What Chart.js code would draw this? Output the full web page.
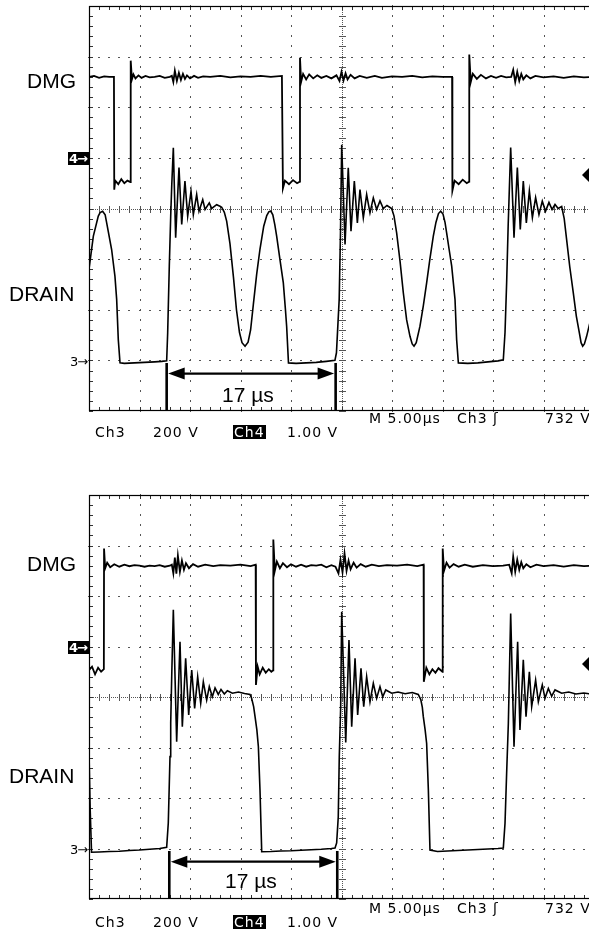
<!DOCTYPE html>
<html><head><meta charset="utf-8">
<script src="https://cdn.jsdelivr.net/npm/chart.js@4.4.0/dist/chart.umd.min.js"></script>
<style>
html,body{margin:0;padding:0;background:#fff;width:589px;height:930px;overflow:hidden;position:relative}
canvas{position:absolute;left:0}
.t{position:absolute;white-space:nowrap;line-height:1;color:#000}
.lbl{font-family:"Liberation Sans",Arial,sans-serif;font-size:21px}
.st{font-family:"DejaVu Sans",sans-serif;font-size:14px;letter-spacing:1px}
.inv{background:#000;color:#fff;padding:0 1px}
.mk{font-family:"DejaVu Sans",sans-serif;font-size:13px;letter-spacing:-1px}
.mkb{font-weight:bold;background:#000;color:#fff;height:13px;width:20px;line-height:13px;padding-left:1px}
.tri{position:absolute;width:0;height:0;border-top:7px solid transparent;border-bottom:7px solid transparent;border-right:7px solid #000}
</style>
</head><body>
<canvas id="c1" width="600" height="420" style="top:0"></canvas>
<canvas id="c2" width="600" height="420" style="top:489px"></canvas>

<div class="t lbl" style="left:27px;top:70px">DMG</div>
<div class="t lbl" style="left:9px;top:283px">DRAIN</div>
<div class="t lbl" style="left:222px;top:384px">17 µs</div>
<div class="t mk mkb" style="left:68px;top:152px">4→</div>
<div class="t mk" style="left:70px;top:355px">3→</div>
<div class="tri" style="left:582px;top:168px"></div>
<div class="t st" style="left:369px;top:411px">M 5.00µs</div>
<div class="t st" style="left:457px;top:411px">Ch3 ʃ</div>
<div class="t st" style="left:545px;top:411px">732 V</div>
<div class="t st" style="left:95px;top:425px">Ch3</div>
<div class="t st" style="left:153px;top:425px">200 V</div>
<div class="t st inv" style="left:233px;top:425px">Ch4</div>
<div class="t st" style="left:287px;top:425px">1.00 V</div>

<div class="t lbl" style="left:27px;top:553px">DMG</div>
<div class="t lbl" style="left:9px;top:765px">DRAIN</div>
<div class="t lbl" style="left:225px;top:870px">17 µs</div>
<div class="t mk mkb" style="left:68px;top:641px">4→</div>
<div class="t mk" style="left:70px;top:843px">3→</div>
<div class="tri" style="left:582px;top:657px"></div>
<div class="t st" style="left:369px;top:901px">M 5.00µs</div>
<div class="t st" style="left:457px;top:901px">Ch3 ʃ</div>
<div class="t st" style="left:545px;top:901px">732 V</div>
<div class="t st" style="left:95px;top:915px">Ch3</div>
<div class="t st" style="left:153px;top:915px">200 V</div>
<div class="t st inv" style="left:233px;top:915px">Ch4</div>
<div class="t st" style="left:287px;top:915px">1.00 V</div>

<script>
// ---- graticule (time in µs, drain in V, DMG in V) ----
const xMajor = [0,5,10,15,20,25,30,35,40,45,50];
const yMajorDrain = [-200,0,200,400,600,800,1000,1200,1400];
const xMinorStep = 1;
const yMinorStep = 40;

// ---- top capture ----
const topDrainT = [0,0.43,0.92,1.1,1.35,1.6,1.75,2.24,2.57,2.74,2.9,3.07,
 3.5,4.5,5.5,6.5,7.2,7.69,
 7.79,7.95,8.09,8.2,8.35,8.58,8.91,9.18,9.5,9.77,10.1,10.33,10.66,10.89,11.26,11.49,11.91,12.15,12.64,12.97,13.14,
 13.4,13.63,13.96,14.3,14.6,14.9,15.15,15.45,15.75,16.0,16.27,16.6,16.93,17.3,17.6,17.8,18.0,18.2,18.4,18.58,18.9,19.24,19.45,19.57,19.75,
 20.5,21.5,22.5,23.5,24.35,
 24.5,24.77,24.9,25.02,25.35,25.67,25.94,26.27,26.57,26.83,27.16,27.49,27.82,28.15,28.48,28.81,29.14,29.5,
 29.97,30.2,30.46,30.8,31.12,31.45,31.78,32.0,32.18,32.4,32.77,33.1,33.43,33.75,34.09,34.35,34.6,34.82,35.05,35.25,35.41,35.65,35.91,36.24,36.4,36.57,
 37.5,38.5,39.5,40.5,41.02,
 41.19,41.35,41.5,41.75,42.08,42.41,42.7,43.0,43.3,43.6,43.9,44.22,44.55,44.88,45.2,45.54,45.85,46.14,46.45,46.8,
 47.05,47.29,47.6,47.95,48.25,48.55,48.72,48.88,49.05,49.27,49.6];
const topDrainV = [360,491,570,584,589,575,543,438,332,240,82,-10,
 -12,-10,-8,-6,-4,-2,
 109,372,570,700,840,485,762,537,708,570,668,576,655,589,635,596,622,600,615,609,605,
 585,550,460,330,200,110,70,56,72,120,220,340,440,530,572,587,590,575,535,491,400,306,200,134,-10,
 -12,-10,-8,-4,0,
 30,240,505,852,458,761,510,708,543,675,563,655,583,642,596,630,600,612,
 600,570,504,390,267,160,95,65,56,70,135,215,306,400,491,545,580,589,578,545,504,440,372,240,82,-10,
 -12,-10,-6,-2,2,
 110,306,530,841,485,762,517,708,543,669,564,643,576,629,589,624,596,616,600,608,
 560,477,370,267,175,109,70,56,65,95,150];

const topDmgT = [0,0.5,1.0,1.5,2.0,2.47,2.5,2.6,2.9,3.2,3.5,3.8,4.1,
 4.13,4.25,4.4,4.6,4.9,5.2,5.6,6.0,6.5,7.0,7.5,8.0,8.2,8.35,8.5,8.7,8.9,9.1,9.3,9.5,9.7,10.0,10.4,10.8,11.3,12,13,14,15,16,17,18,19.1,
 19.2,19.4,19.8,20.2,20.6,20.87,
 20.89,21.0,21.2,21.5,21.8,22.2,22.6,23.0,23.5,24,24.5,24.8,25.0,25.2,25.4,25.6,25.9,26.3,26.8,27.5,28.3,29,30,31,32,33,34,35,35.95,
 35.98,36.2,36.6,37.0,37.4,37.63,
 37.65,37.8,38.0,38.4,38.8,39.3,39.8,40.3,40.8,41.3,41.8,42.0,42.2,42.4,42.6,42.8,43.0,43.3,43.7,44.2,45,46,47,48,49,50];
const topDmgV = [1.6,1.62,1.58,1.61,1.6,1.6,-0.63,-0.45,-0.52,-0.42,-0.5,-0.45,-0.48,
 1.92,1.55,1.65,1.57,1.63,1.58,1.62,1.59,1.6,1.62,1.58,1.6,1.62,1.5,1.72,1.52,1.68,1.54,1.66,1.56,1.63,1.57,1.62,1.58,1.61,1.6,1.62,1.59,1.61,1.6,1.62,1.6,1.62,
 -0.6,-0.45,-0.52,-0.44,-0.5,-0.47,
 1.98,1.5,1.66,1.55,1.65,1.57,1.63,1.58,1.62,1.57,1.63,1.52,1.7,1.53,1.67,1.55,1.64,1.57,1.62,1.58,1.62,1.58,1.61,1.6,1.62,1.59,1.61,1.6,1.6,
 -0.65,-0.45,-0.52,-0.43,-0.5,-0.47,
 2.04,1.5,1.66,1.56,1.64,1.57,1.62,1.58,1.62,1.59,1.6,1.74,1.5,1.7,1.52,1.66,1.55,1.63,1.57,1.62,1.59,1.61,1.58,1.61,1.59,1.6];

const topArrowT = [7.69, 24.42];

// ---- bottom capture ----
const botDrainT = [0,0.12,0.25,1,2,3,4,5,6,7,7.69,
 7.85,8.02,8.09,8.2,8.35,8.68,9.01,9.24,9.57,9.87,10.17,10.46,10.76,11.06,11.32,11.65,11.91,12.21,12.48,12.8,13.07,13.4,13.7,14.2,14.8,15.4,15.94,
 16.1,16.3,16.44,16.62,16.77,16.93,17.1,
 18,19,20,21,22,23,24,24.36,
 24.52,24.68,24.78,24.92,25.02,25.42,25.74,26.01,26.34,26.6,26.93,27.2,27.49,27.82,28.15,28.48,28.81,29.08,29.38,29.97,30.6,31.3,32.0,32.6,
 32.85,33.0,33.1,33.28,33.43,33.6,33.76,
 34.5,35.5,36.5,37.5,38.5,39.5,40.5,41.02,
 41.19,41.35,41.52,41.75,42.08,42.44,42.67,43.0,43.27,43.6,43.83,44.22,44.49,44.88,45.15,45.48,45.81,46.14,46.8,47.5,48.2,49,50];
const botDrainV = [382,150,-15,-14,-12,-11,-8,-6,-3,0,5,
 101,364,497,700,945,423,819,482,753,529,707,555,680,575,660,588,641,601,636,610,630,612,625,615,620,614,610,
 595,562,522,470,403,232,-13,
 -12,-10,-9,-7,-5,-3,0,2,
 22,126,364,562,938,420,826,482,753,529,714,562,680,581,654,595,641,601,628,615,620,613,618,610,
 590,560,522,470,416,232,-6,
 -12,-10,-8,-6,-4,-2,0,2,
 100,298,496,931,403,819,469,747,522,700,562,667,581,648,595,634,603,628,615,620,612,616,610];

const botDmgT = [0,0.3,0.6,0.9,1.2,1.47,
 1.49,1.6,1.8,2.1,2.5,3,3.5,4,4.5,5,5.5,6,6.5,7,7.5,8.0,8.2,8.35,8.5,8.65,8.8,9.0,9.2,9.4,9.6,9.9,10.3,10.8,11.5,12.3,13,14,15,16,16.5,
 16.53,16.7,16.9,17.2,17.5,17.8,18.05,18.23,
 18.25,18.4,18.6,18.9,19.2,19.6,20,20.5,21,21.5,22,22.5,23,23.5,24,24.4,24.7,24.9,25.1,25.3,25.5,25.7,25.9,26.2,26.5,26.9,27.4,28,28.7,29.5,30.5,31.5,32.5,33.13,
 33.15,33.4,33.7,34,34.3,34.6,35.0,
 35.02,35.15,35.4,35.7,36.1,36.6,37.2,38,39,40,41,41.6,41.85,42.0,42.2,42.4,42.6,42.8,43.0,43.3,43.7,44.3,45,46,47,48,49,50];
const botDmgV = [-0.47,-0.4,-0.55,-0.42,-0.5,-0.45,
 1.94,1.55,1.66,1.57,1.63,1.58,1.62,1.59,1.61,1.6,1.58,1.6,1.59,1.61,1.58,1.6,1.62,1.45,1.76,1.44,1.8,1.48,1.7,1.52,1.65,1.55,1.63,1.58,1.62,1.59,1.61,1.6,1.62,1.59,1.62,
 -0.76,-0.4,-0.55,-0.42,-0.52,-0.45,-0.5,-0.47,
 2.12,1.5,1.68,1.55,1.65,1.57,1.63,1.58,1.62,1.58,1.61,1.6,1.62,1.57,1.61,1.58,1.45,1.72,1.47,1.84,1.5,1.7,1.53,1.66,1.56,1.63,1.58,1.62,1.59,1.61,1.6,1.62,1.59,1.62,
 -0.7,-0.42,-0.55,-0.45,-0.52,-0.43,-0.5,
 1.94,1.5,1.66,1.56,1.63,1.58,1.62,1.58,1.61,1.59,1.6,1.62,1.45,1.78,1.48,1.72,1.52,1.67,1.55,1.63,1.57,1.62,1.59,1.61,1.58,1.61,1.59,1.6];

const botArrowT = [7.95, 24.58];
const drainLow = -10;      // V, floor level used by the marker lines
const arrowLevel = -52;    // V, height of the 17 µs arrow

function pts(t, v){ return t.map((x,i)=>({x:x, y:v[i]})); }

const graticule = {
  id:'graticule',
  beforeDatasetsDraw(chart){
    const {ctx, chartArea:a} = chart;
    const xs = chart.scales.x, ys = chart.scales.yDrain;
    const xc = xMajor[5], yc = yMajorDrain[4];
    ctx.save();
    ctx.fillStyle = '#555';
    xMajor.slice(1,-1).forEach(xv=>{
      const px = Math.round(xs.getPixelForValue(xv));
      if (xv === xc){
        for (let py=a.top; py<=a.bottom; py+=2) ctx.fillRect(px,py,1,1);
        for (let v=yMajorDrain[0]; v<=yMajorDrain[8]; v+=yMinorStep){
          const py = Math.round(ys.getPixelForValue(v)); ctx.fillRect(px-3,py,7,1);
        }
      } else {
        for (let v=yMajorDrain[0]; v<=yMajorDrain[8]; v+=yMinorStep){
          const py = Math.round(ys.getPixelForValue(v)); ctx.fillRect(px,py-1,1,2);
        }
      }
    });
    yMajorDrain.slice(1,-1).forEach(yv=>{
      const py = Math.round(ys.getPixelForValue(yv));
      if (yv === yc){
        for (let px=a.left; px<=a.right; px+=2) ctx.fillRect(px,py,1,1);
        for (let v=xMajor[0]; v<=xMajor[10]; v+=xMinorStep){
          const px = Math.round(xs.getPixelForValue(v)); ctx.fillRect(px,py-3,1,7);
        }
      } else {
        for (let v=xMajor[0]; v<=xMajor[10]; v+=xMinorStep){
          const px = Math.round(xs.getPixelForValue(v)); ctx.fillRect(px-1,py,2,1);
        }
      }
    });
    ctx.fillStyle = '#333';
    for (let v=xMajor[0]; v<=xMajor[10]; v+=xMinorStep){
      const px = Math.round(xs.getPixelForValue(v));
      ctx.fillRect(px,a.top,1,4); ctx.fillRect(px,a.bottom-4,1,4);
    }
    for (let v=yMajorDrain[0]; v<=yMajorDrain[8]; v+=yMinorStep){
      const py = Math.round(ys.getPixelForValue(v));
      ctx.fillRect(a.left,py,4,1); ctx.fillRect(a.right-4,py,4,1);
    }
    ctx.strokeStyle = '#000'; ctx.lineWidth = 1.2;
    ctx.strokeRect(Math.round(a.left)+0.5, Math.round(a.top)+0.5, Math.round(a.width)-1, Math.round(a.height)-1);
    ctx.restore();
  }
};

const arrowPlugin = {
  id:'arrow17',
  afterDatasetsDraw(chart, args, opts){
    const {ctx, chartArea:a} = chart;
    const xs = chart.scales.x, ys = chart.scales.yDrain;
    const x1 = xs.getPixelForValue(opts.times[0]), x2 = xs.getPixelForValue(opts.times[1]);
    const yTop = ys.getPixelForValue(drainLow), yA = ys.getPixelForValue(arrowLevel);
    ctx.save();
    ctx.strokeStyle = '#000'; ctx.fillStyle = '#000';
    ctx.lineWidth = 2.6;
    ctx.beginPath();
    ctx.moveTo(x1,yTop); ctx.lineTo(x1,a.bottom);
    ctx.moveTo(x2,yTop); ctx.lineTo(x2,a.bottom);
    ctx.stroke();
    ctx.lineWidth = 2.2;
    ctx.beginPath(); ctx.moveTo(x1+12,yA); ctx.lineTo(x2-12,yA); ctx.stroke();
    ctx.beginPath(); ctx.moveTo(x1+1.5,yA); ctx.lineTo(x1+18,yA-6); ctx.lineTo(x1+18,yA+6); ctx.closePath(); ctx.fill();
    ctx.beginPath(); ctx.moveTo(x2-1.5,yA); ctx.lineTo(x2-18,yA-6); ctx.lineTo(x2-18,yA+6); ctx.closePath(); ctx.fill();
    ctx.restore();
  }
};

function makeChart(id, drainT, drainV, dmgT, dmgV, arrowT, padBottom){
  return new Chart(document.getElementById(id), {
    type:'line',
    data:{datasets:[
      {label:'DMG', data:pts(dmgT,dmgV), yAxisID:'yDmg', borderColor:'#000', borderWidth:1.8, pointRadius:0, tension:0},
      {label:'DRAIN', data:pts(drainT,drainV), yAxisID:'yDrain', borderColor:'#000', borderWidth:1.6, pointRadius:0, tension:0}
    ]},
    options:{
      responsive:false, animation:false, devicePixelRatio:1,
      parsing:false, normalized:true,
      layout:{padding:{left:89, right:6, top:6, bottom:padBottom}},
      plugins:{legend:{display:false}, tooltip:{enabled:false}, arrow17:{times:arrowT}},
      scales:{
        x:{type:'linear', min:xMajor[0], max:xMajor[10], display:false},
        yDrain:{type:'linear', min:yMajorDrain[0], max:yMajorDrain[8], display:false},
        yDmg:{type:'linear', min:-5, max:3, display:false}
      }
    },
    plugins:[graticule, arrowPlugin]
  });
}

makeChart('c1', topDrainT, topDrainV, topDmgT, topDmgV, topArrowT, 9);
makeChart('c2', botDrainT, botDrainV, botDmgT, botDmgV, botArrowT, 10);
</script>
</body></html>
